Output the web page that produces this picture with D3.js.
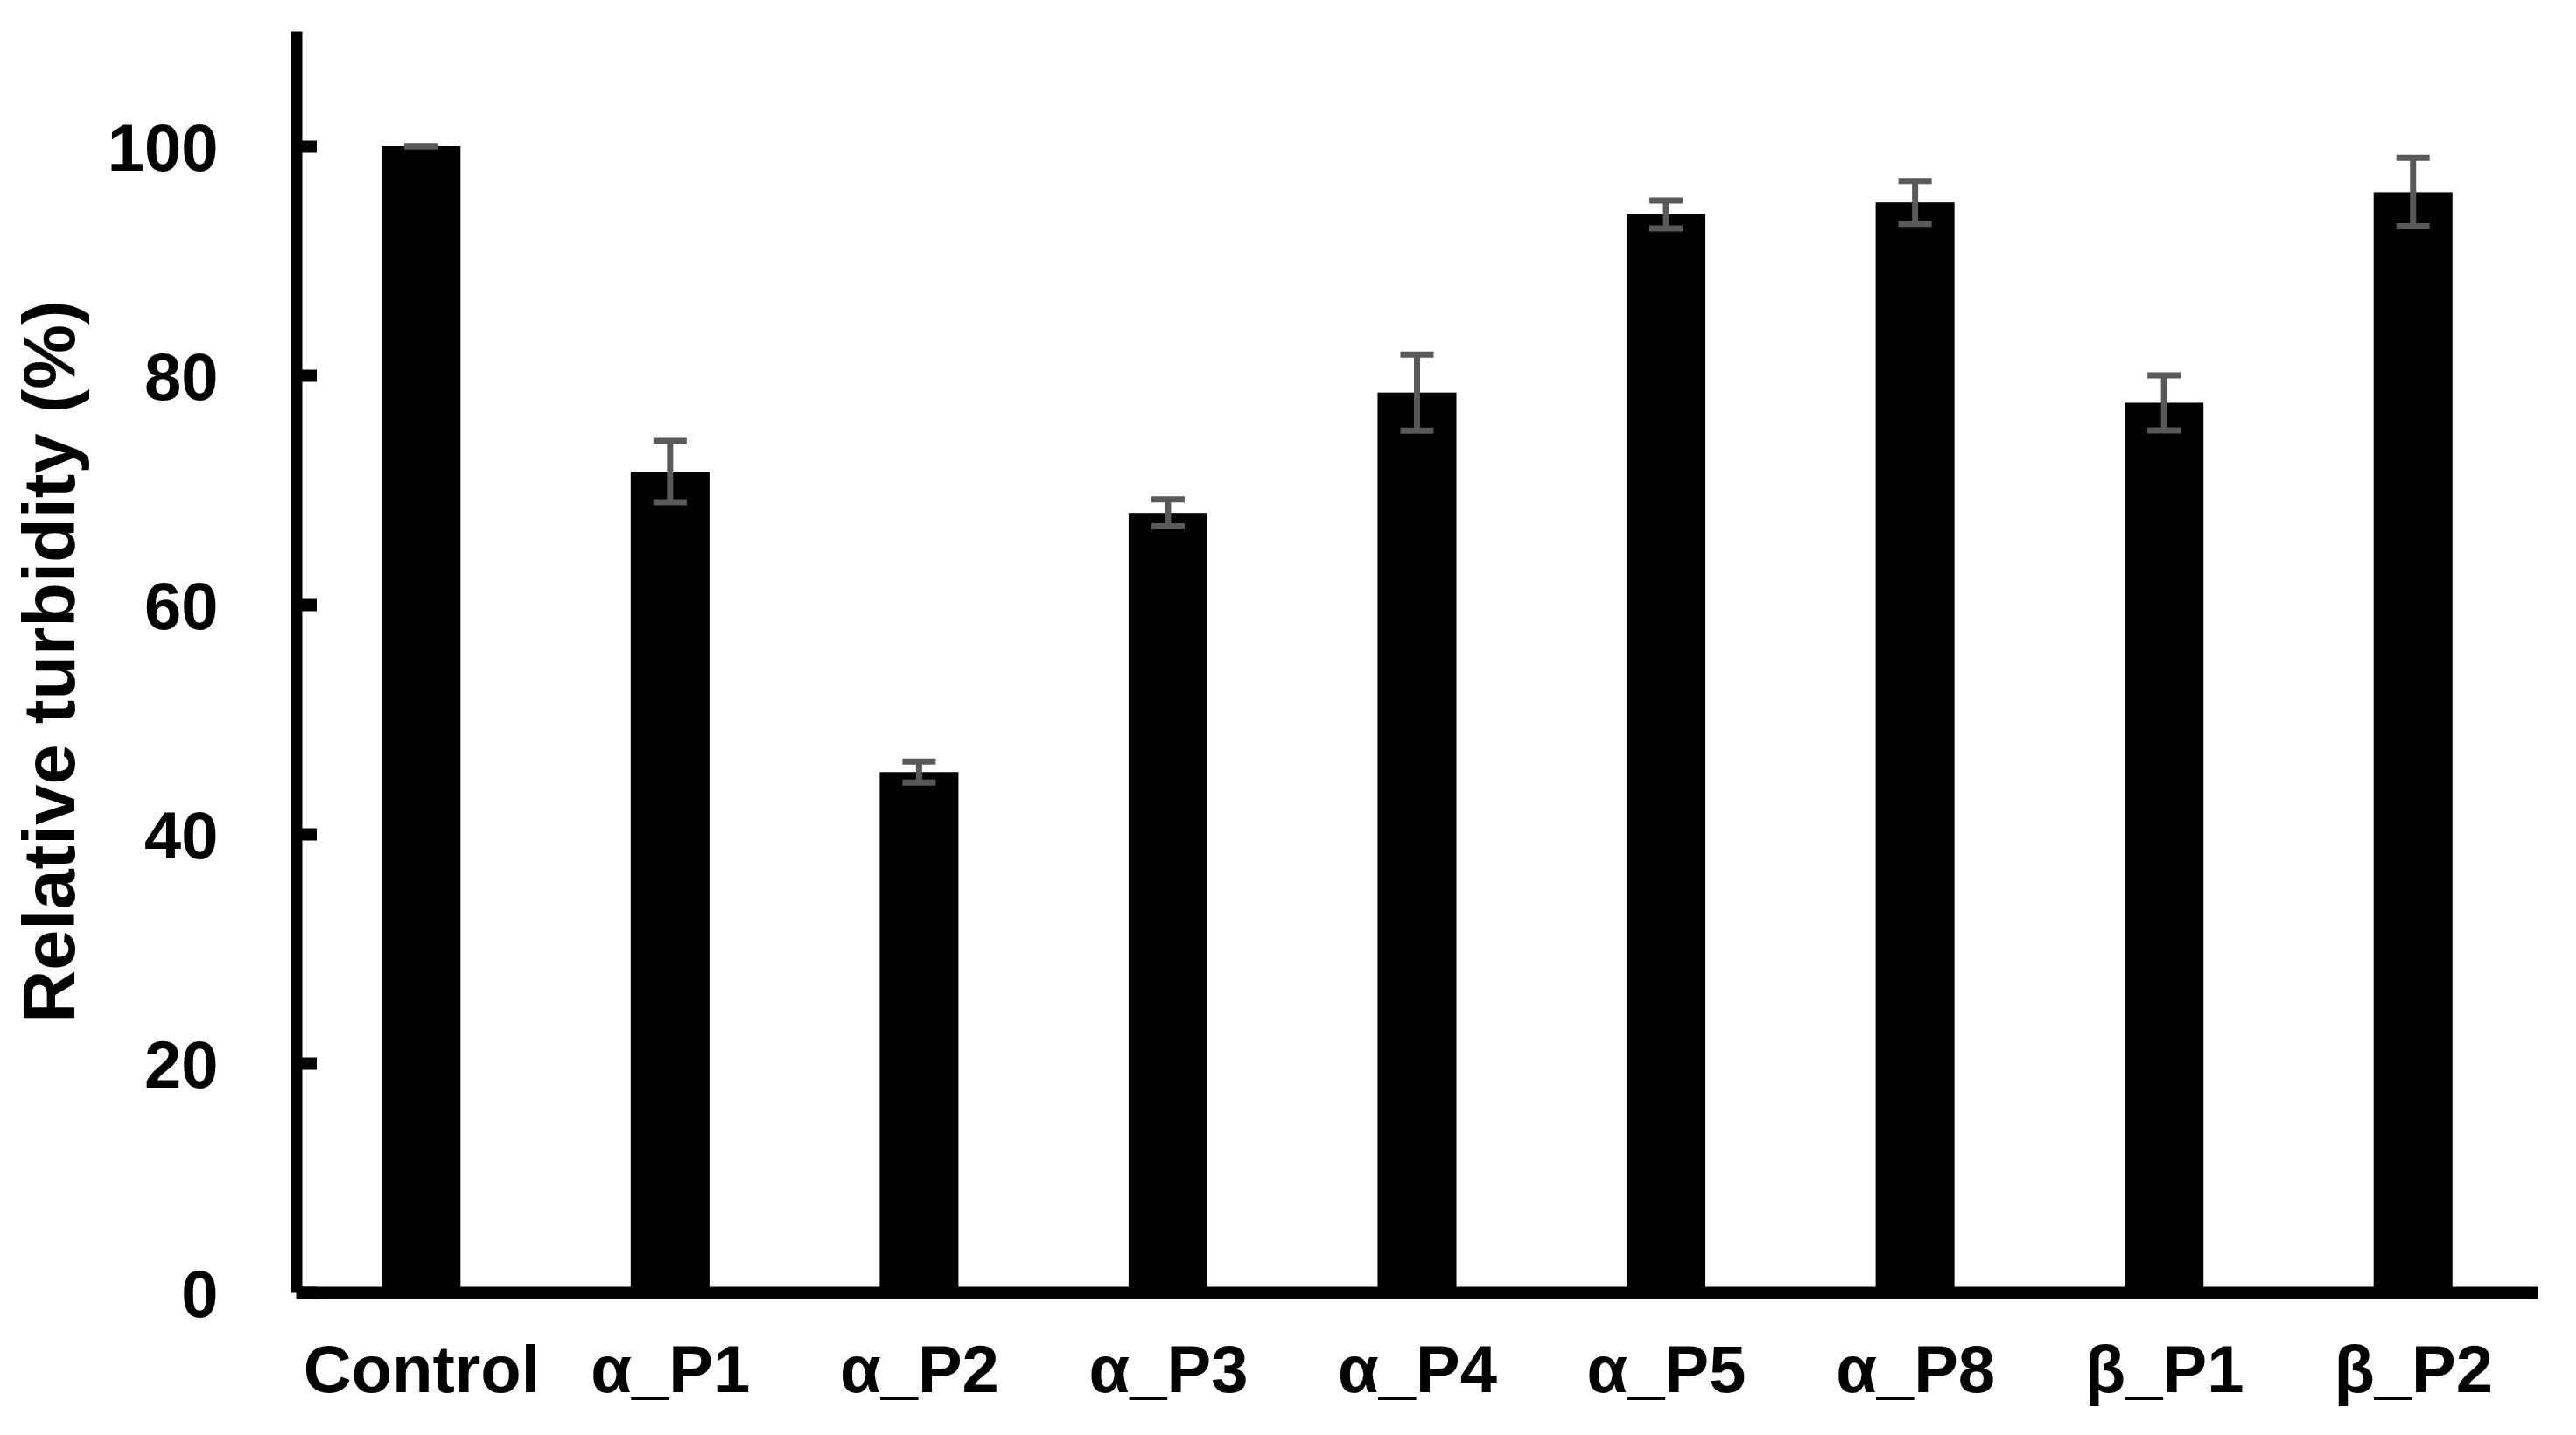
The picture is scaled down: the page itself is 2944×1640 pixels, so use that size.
<!DOCTYPE html>
<html>
<head>
<meta charset="utf-8">
<script src="https://cdn.jsdelivr.net/npm/d3@7"></script>
<style>
  html, body { margin: 0; padding: 0; background: #ffffff; }
  svg { display: block; }
  text { font-family: "Liberation Sans", Arial, Helvetica, sans-serif; font-weight: bold; fill: #000; }
</style>
</head>
<body>
<svg id="chart" width="2944" height="1640"></svg>
<script>
// ---- data ----
const categories = ["Control", "α_P1", "α_P2", "α_P3", "α_P4", "α_P5", "α_P8", "β_P1", "β_P2"];
const values     = [100, 71.6, 45.4, 68.0, 78.5, 94.05, 95.1, 77.6, 96.0];
const errors     = [0, 2.67, 0.92, 1.17, 3.32, 1.22, 1.87, 2.4, 2.98];
const yTicks     = [0, 20, 40, 60, 80, 100];
const yTitle     = "Relative turbidity (%)";

// ---- layout ----
const svg = d3.select("#chart");
const plotLeft = 339, plotRight = 2900, plotTop = 36, plotBottom = 1477;

const x = d3.scalePoint().domain(categories).range([plotLeft, plotRight]).padding(0.5);
const y = d3.scaleLinear().domain([0, 110]).range([plotBottom, plotTop]);
const barW = x.step() * 0.3165;
const capW = 38;

const data = categories.map((c, i) => ({ c, v: values[i], e: errors[i] }));

// bars
svg.append("g").selectAll("rect").data(data).join("rect")
  .attr("x", d => x(d.c) - barW / 2)
  .attr("y", d => y(d.v))
  .attr("width", barW)
  .attr("height", d => y(0) - y(d.v))
  .attr("fill", "#000");

// error bars
const eg = svg.append("g").attr("stroke", "#595959").attr("stroke-width", 7);
eg.selectAll("line.v").data(data).join("line").attr("class", "v")
  .attr("x1", d => x(d.c)).attr("x2", d => x(d.c))
  .attr("y1", d => y(d.v + d.e)).attr("y2", d => y(d.v - d.e));
eg.selectAll("line.t").data(data).join("line").attr("class", "t")
  .attr("x1", d => x(d.c) - capW / 2).attr("x2", d => x(d.c) + capW / 2)
  .attr("y1", d => y(d.v + d.e)).attr("y2", d => y(d.v + d.e));
eg.selectAll("line.b").data(data).join("line").attr("class", "b")
  .attr("x1", d => x(d.c) - capW / 2).attr("x2", d => x(d.c) + capW / 2)
  .attr("y1", d => y(d.v - d.e)).attr("y2", d => y(d.v - d.e));

// y axis
const yAxis = d3.axisLeft(y).tickValues(yTicks).tickSizeInner(-23.5).tickSizeOuter(0).tickPadding(89);
const gy = svg.append("g").attr("transform", `translate(${plotLeft - 0.5},0)`).call(yAxis);
gy.select(".domain").attr("stroke", "#000").attr("stroke-width", 13);
gy.selectAll(".tick line").attr("stroke", "#000").attr("stroke-width", 14);
gy.selectAll(".tick text").attr("font-size", 76).attr("font-family", null).attr("fill", "#000").attr("dy", "0.36em");

// x axis
const xAxis = d3.axisBottom(x).tickSize(0).tickPadding(60);
const gx = svg.append("g").attr("transform", `translate(0,${plotBottom})`).call(xAxis);
gx.select(".domain").attr("stroke", "#000").attr("stroke-width", 14);
gx.selectAll(".tick text").attr("font-size", 76).attr("font-family", null).attr("fill", "#000");

// y title
svg.append("text")
  .attr("transform", `translate(56,756) rotate(-90)`)
  .attr("text-anchor", "middle")
  .attr("dy", "0.35em")
  .attr("font-size", 83)
  .text(yTitle);
</script>
</body>
</html>
